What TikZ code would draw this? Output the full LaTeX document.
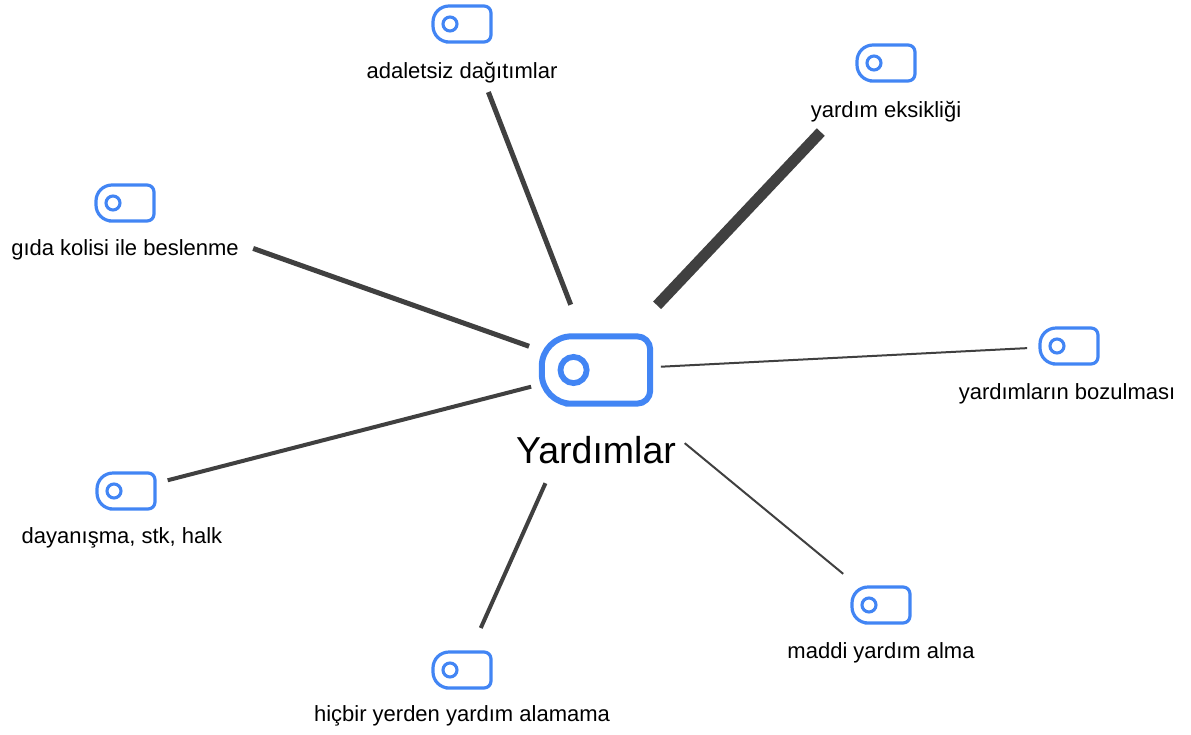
\documentclass[tikz,border=0pt]{standalone}
\usepackage{fontspec}
\setmainfont{Liberation Sans}
\definecolor{tagblue}{HTML}{4285F4}
\definecolor{linkgray}{HTML}{404040}
\tikzset{
  x=1pt, y=-1pt,
  % tag-shaped icon: round left end, small radius on the right corners
  pics/tagicon/.style={code={
    \draw[tagblue, line width=#1*3.2pt, line join=round]
      (0,{-18*#1}) [rounded corners={16*#1}] -- ({-29*#1},{-18*#1}) -- ({-29*#1},{18*#1}) -- (0,{18*#1})
      [rounded corners={7*#1}] -- ({29*#1},{18*#1}) -- ({29*#1},{-18*#1}) -- cycle;
    \draw[tagblue, line width=#1*3.1pt] ({-12*#1},0) circle[radius={7*#1}];
  }},
  iconbox/.style={inner sep=0pt, minimum width=61pt, minimum height=39pt},
  hubbox/.style={inner sep=0pt, minimum width=114pt, minimum height=73pt},
  lbl/.style={anchor=base, inner sep=0pt, font=\fontsize{22}{26}\selectfont},
  hublbl/.style={anchor=base, inner sep=0pt, font=\fontsize{37.5}{44}\selectfont},
  link/.style={draw=linkgray, line cap=butt},
}
\begin{document}
\begin{tikzpicture}
\useasboundingbox (0,0) rectangle (1191,734);

% central topic
\node[hubbox] (hub) at (596,370) {};
\pic at (hub.center) {tagicon=1.87};
\node[hublbl] (hubtxt) at (596,463) {Yardımlar};

% surrounding topics
\node[iconbox] (o1) at (462,24) {};
\node[iconbox] (o2) at (886,63) {};
\node[iconbox] (o3) at (125,203) {};
\node[iconbox] (o4) at (1069,346) {};
\node[iconbox] (o5) at (126,491) {};
\node[iconbox] (o6) at (881,605) {};
\node[iconbox] (o7) at (462,670) {};
\foreach \n in {o1,o2,o3,o4,o5,o6,o7} \pic at (\n.center) {tagicon=1};

\node[lbl] (t1) at (462,78) {adaletsiz dağıtımlar};
\node[lbl] (t2) at (886,117) {yardım eksikliği};
\node[lbl] (t3) at (125,255) {gıda kolisi ile beslenme};
\node[lbl] (t4) at (1067,399) {yardımların bozulması};
\node[lbl] (t5) at (122,543) {dayanışma, stk, halk};
\node[lbl] (t6) at (881,658) {maddi yardım alma};
\node[lbl] (t7) at (462,721) {hiçbir yerden yardım alamama};

% connectors, weighted by line width
\draw[link, line width=5pt,  shorten <=70pt,  shorten >=73pt]  (hub.center) -- (o1.center);
\draw[link, line width=11pt, shorten <=89pt,  shorten >=95pt]  (hub.center) -- (o2.center);
\draw[link, line width=5pt,  shorten <=71pt,  shorten >=136pt] (hub.center) -- (o3.center);
\draw[link, line width=2pt,  shorten <=65pt,  shorten >=42pt]  (hub.center) -- (o4.center);
\draw[link, line width=4pt,  shorten <=67pt,  shorten >=43pt]  (hub.center) -- (o5.center);
\draw[link, line width=2pt,  shorten <=115pt, shorten >=49pt]  (hub.center) -- (o6.center);
\draw[link, line width=4pt,  shorten <=124pt, shorten >=46pt]  (hub.center) -- (o7.center);
\end{tikzpicture}
\end{document}
